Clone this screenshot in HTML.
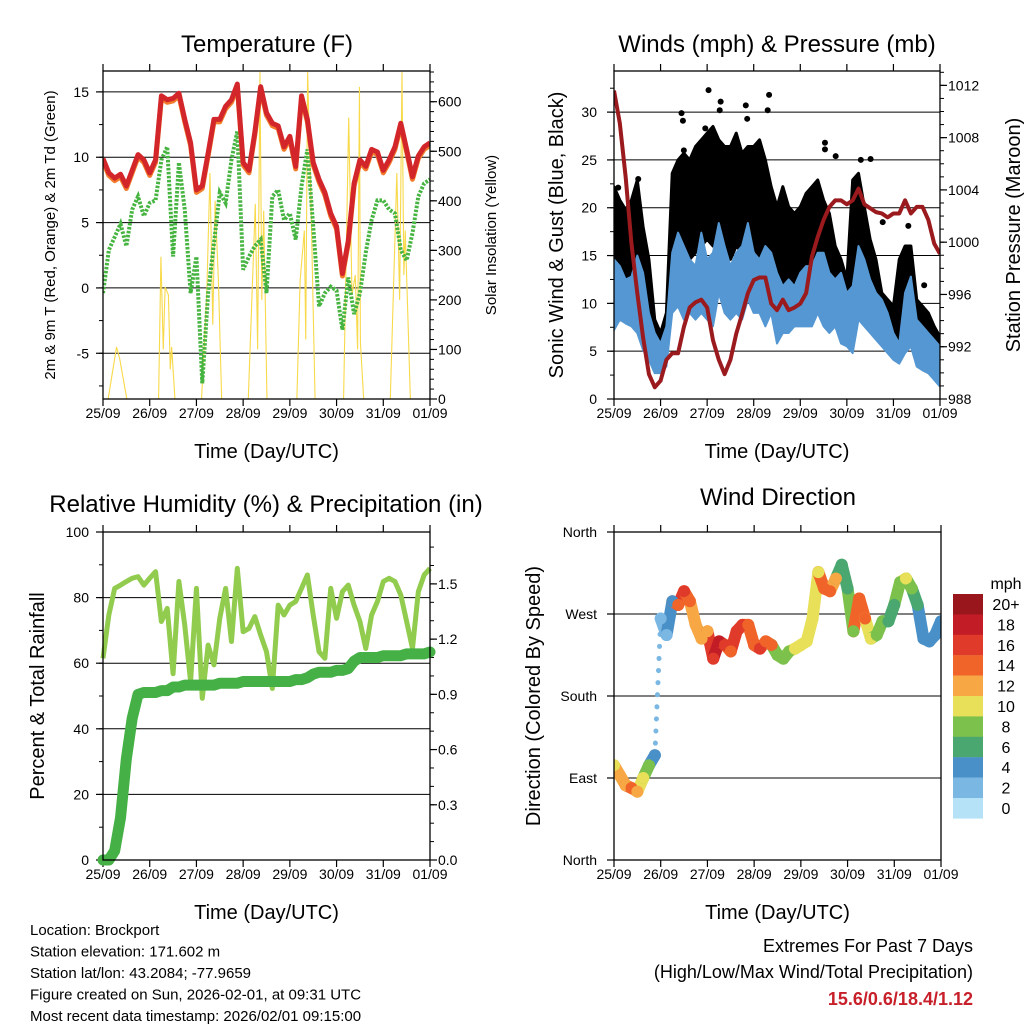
<!DOCTYPE html>
<html><head><meta charset="utf-8"><style>
body{margin:0;background:#fff}
svg{display:block;font-family:"Liberation Sans",Arial,sans-serif}
</style></head><body>
<svg id="c" width="1024" height="1024" viewBox="0 0 1024 1024" xmlns="http://www.w3.org/2000/svg"></svg>
<script>
// ---------- DATA ----------
const dayLabels=["25/09","26/09","27/09","28/09","29/09","30/09","31/09","01/09"];
const tempRed=[9.9,8.8,8.4,8.7,7.8,9.0,10.2,9.8,8.8,9.8,14.7,14.4,14.5,14.9,12.9,11.1,7.5,7.8,10.3,12.9,12.9,13.9,14.4,15.6,9.6,9.0,11.9,15.4,13.4,12.6,12.4,10.8,11.6,9.3,14.7,12.9,9.6,8.3,7.3,5.7,4.7,1.1,3.6,8.0,9.8,9.3,10.6,10.4,9.0,9.8,10.8,12.6,10.6,8.5,10.1,10.8,11.1];
const dewGreen=[-0.4,2.9,3.9,4.9,3.2,6.0,7.0,5.5,6.5,6.7,9.8,10.8,2.4,9.6,6.0,-0.4,2.4,-7.3,-0.4,3.4,7.3,6.5,9.8,12.0,1.4,2.4,3.2,3.7,-0.4,7.0,7.5,5.2,5.7,3.7,7.8,10.6,4.7,-1.4,-0.4,0.1,-0.2,-3.2,0.8,-2.0,-0.4,2.7,5.2,6.7,6.7,6.0,5.7,2.9,2.1,4.2,7.0,8.0,8.3];
const solarDay=[0.11,0.29,0.36,0.51,1.19,1.24,1.29,1.33,1.40,1.44,1.47,1.54,2.11,2.22,2.29,2.35,2.40,2.47,2.54,3.11,3.26,3.31,3.36,3.40,3.44,3.51,4.15,4.22,4.31,4.34,4.38,4.45,4.51,4.54,5.15,5.26,5.33,5.40,5.45,5.49,5.51,5.58,6.15,6.29,6.35,6.40,6.44,6.47,6.58];
const solarVal=[0,105,80,0,0,287,100,226,210,60,105,0,0,210,456,150,400,240,0,0,394,100,660,200,380,0,0,240,340,120,660,406,132,0,0,568,210,250,100,630,115,0,0,456,200,660,250,340,0];
const windHigh=[14.6,13.9,12.5,12.8,15.0,13.2,9.0,6.9,5.8,7.6,15.3,17.4,16.0,14.6,13.9,17.4,14.6,15.3,18.4,16.0,13.9,15.3,16.0,18.4,15.3,14.6,16.0,15.3,13.2,11.8,12.5,11.8,13.2,13.9,13.9,15.3,15.3,13.2,12.5,13.2,11.1,11.8,16.0,14.6,12.5,11.1,10.4,9.0,6.9,5.8,11.1,12.8,8.3,7.6,6.9,6.2,5.5];
const windLow=[7.2,8.3,7.9,7.6,6.9,5.1,4.1,2.7,2.7,3.4,9.0,9.7,8.3,9.0,8.3,9.0,8.3,7.6,11.1,9.0,8.3,9.0,8.3,10.4,9.0,9.0,7.6,9.0,5.8,6.9,6.9,7.6,7.6,7.6,7.6,9.0,7.6,6.9,7.6,5.8,5.5,4.8,8.3,7.6,6.9,6.2,5.5,4.8,4.1,3.7,4.8,5.5,3.4,3.0,2.7,2.0,1.3];
const gustHigh=[22.2,20.8,19.8,20.8,22.9,18.0,14.6,8.3,6.9,9.0,23.6,25.0,25.7,25.0,26.4,27.1,27.8,28.5,27.1,26.4,26.4,27.8,25.7,26.4,26.4,27.1,25.0,22.2,20.1,22.2,20.1,19.4,20.1,21.5,22.2,22.9,20.8,19.4,16.0,14.6,12.5,22.9,23.6,20.1,16.7,14.6,11.1,10.4,9.7,14.6,16.0,16.0,10.4,9.7,9.0,7.6,6.5];
const gustLow=[12.8,11.1,11.8,10.4,11.1,7.6,4.8,5.1,5.5,4.1,14.6,16.0,16.7,14.6,15.3,16.0,16.7,16.0,16.7,14.6,14.6,16.0,15.3,15.3,16.0,14.6,13.9,11.8,11.1,11.1,11.8,11.8,11.1,11.8,12.5,13.2,11.1,10.4,9.0,7.6,6.9,11.8,11.1,11.1,9.0,7.6,6.9,6.2,5.5,6.2,6.9,7.6,4.8,4.8,4.8,4.1,4.1];
const gustOutDay=[2.03,3.33,1.45,1.48,2.29,2.27,2.83,2.86,3.30,1.96,4.53,4.53,4.76,5.30,5.51,1.88,1.50,5.77,6.32,6.66,0.52,0.09];
const gustOutVal=[32.3,31.8,29.9,29.1,31.1,30.2,30.7,29.3,30.2,28.3,26.8,26.1,25.4,25.0,25.1,26.4,26.0,18.5,18.1,11.9,23.0,22.1];
const pressure=[1011.6,1009.1,1005.0,999.9,996.1,992.7,989.9,988.9,989.4,991.0,991.5,991.5,993.5,995.0,995.4,995.6,995.0,992.5,991.0,989.9,991.0,993.0,994.5,996.1,997.1,997.3,997.3,995.3,994.8,995.6,994.8,995.0,995.3,996.1,998.9,1000.4,1001.7,1002.7,1003.2,1003.2,1002.9,1003.2,1004.1,1002.9,1002.6,1002.3,1002.2,1001.9,1002.2,1002.2,1003.2,1002.2,1002.7,1002.7,1001.7,999.9,999.1];
const rhVals=[61.5,74.7,82.8,83.8,84.9,85.9,86.4,83.8,85.9,87.9,72.7,76.7,56.8,84.9,71.6,54.4,82.8,49.3,65.5,59.5,73.7,82.8,66.6,88.9,69.6,70.6,74.2,68.6,63.5,52.3,77.7,74.7,77.7,78.8,82.8,86.9,74.7,63.5,61.5,82.8,73.7,81.8,83.8,77.7,72.7,64.5,74.7,78.8,84.9,85.9,84.9,80.8,72.7,64.5,81.8,86.9,88.9];
const precipTotal=[0,0,0.05,0.23,0.55,0.77,0.90,0.91,0.91,0.91,0.92,0.92,0.94,0.94,0.95,0.95,0.95,0.95,0.95,0.95,0.96,0.96,0.96,0.96,0.97,0.97,0.97,0.97,0.97,0.97,0.97,0.97,0.97,0.98,0.98,0.99,1.01,1.02,1.02,1.02,1.03,1.03,1.04,1.08,1.10,1.10,1.10,1.10,1.11,1.11,1.11,1.11,1.12,1.12,1.12,1.12,1.13];
const dirVals=[104,93,82,79,75,90,104,115,265,247,284,280,295,284,258,243,251,221,240,236,229,251,258,258,236,232,240,236,225,221,229,232,236,240,265,316,298,295,309,324,298,251,287,265,243,247,262,262,280,305,309,298,280,243,240,247,262];
const dirSpeed=[11,12,13,14,13,10,8,5,3,3,4,14,16,15,13,12,13,17,18,16,15,16,17,15,14,16,15,14,9,8,9,10,11,10,11,11,14,15,12,7,6,8,15,14,10,9,8,7,7,9,10,9,6,5,4,5,4];
const cbLabels=["20+","18","16","14","12","10","8","6","4","2","0"];
const cbColors=["#98161c","#c21d26","#e03a2a","#f0642a","#f7a743","#e8e058","#7cc14c","#4aa770","#4a90c8","#7ab8e3","#b5e2f7"];

// ---------- HELPERS ----------
const NS="http://www.w3.org/2000/svg";
const svg=document.getElementById('c');
function mk(tag,attrs,parent,text){const e=document.createElementNS(NS,tag);for(const k in attrs)e.setAttribute(k,attrs[k]);if(text!==undefined)e.textContent=text;(parent||svg).appendChild(e);return e;}
function lin(d0,d1,r0,r1){return v=>r0+(v-d0)*(r1-r0)/(d1-d0);}
function idxDay(i,n){return i*7/(n-1);}
function spdColor(s){let k=Math.min(10,Math.floor(s/2));return cbColors[10-k];}

const P1={x0:103,x1:430,y0:71,y1:399},P2={x0:614,x1:940,y0:71,y1:399},P3={x0:103,x1:430,y0:532,y1:860},P4={x0:614,x1:941,y0:532,y1:860};

function xAxis(P,name){
  const g=mk('g',{},svg);
  
  const sx=lin(0,7,P.x0,P.x1);
  dayLabels.forEach((l,i)=>{const x=sx(i);
    mk('line',{x1:x,x2:x,y1:P.y1,y2:P.y1+7,stroke:'#000','stroke-width':1.2},g);
    mk('line',{x1:x,x2:x,y1:P.y0,y2:P.y0-7,stroke:'#000','stroke-width':1.2},g);
    const t=mk('text',{x:x,y:P.y1+19,'font-size':14,'text-anchor':'middle'},g,l);
    });
  const tt=mk('text',{x:(P.x0+P.x1)/2,y:P.y1+59,'font-size':20,'text-anchor':'middle'},g,'Time (Day/UTC)');
  
  return sx;
}
function frame(P,name){const r=mk('rect',{x:P.x0,y:P.y0,width:P.x1-P.x0,height:P.y1-P.y0,fill:'none',stroke:'#000','stroke-width':1.3});
  }
function yTicks(P,sy,vals,labels,side,minors,grid,lx,fs){
  const g=mk('g',{},svg);
  
  const xe=side==='left'?P.x0:P.x1,dir=side==='left'?-1:1;
  vals.forEach((v,i)=>{const y=sy(v);
    if(grid&&y>P.y0+1&&y<P.y1-1)mk('line',{x1:P.x0,x2:P.x1,y1:y,y2:y,stroke:'#000','stroke-width':1},g);
    mk('line',{x1:xe,x2:xe+dir*7,y1:y,y2:y,stroke:'#000','stroke-width':1.2},g);
    const t=mk('text',{x:lx,y:y+5,'font-size':fs||14,'text-anchor':side==='left'?'end':'start'},g,labels[i]);
    });
  minors.forEach(v=>{const y=sy(v);if(y>=P.y0&&y<=P.y1)mk('line',{x1:xe,x2:xe+dir*4,y1:y,y2:y,stroke:'#000','stroke-width':1},g);});
}
function vtext(x,y,s,fs,name){const t=mk('text',{x:x,y:y,'font-size':fs,'text-anchor':'middle',transform:`rotate(-90 ${x} ${y})`},svg,s);
  }
function title(x,y,s,name){const t=mk('text',{x:x,y:y,'font-size':24,'text-anchor':'middle'},svg,s);
  }
function range(a,b,s){const r=[];for(let v=a;v<=b+1e-9;v+=s)r.push(+v.toFixed(3));return r;}

// ---------- PANEL 1: Temperature ----------
title(267,52,'Temperature (F)','temperature-title');
{const sx=xAxis(P1,'temperature');
 const sy=lin(-8.5,16.6,P1.y1,P1.y0), sr=lin(0,662,P1.y1,P1.y0);
 yTicks(P1,sy,[15,10,5,0,-5],['15','10','5','0','-5'],'left',range(-7.5,16,2.5),true,89);
 yTicks(P1,sr,[0,100,200,300,400,500,600],['0','100','200','300','400','500','600'],'right',range(0,660,20),false,438);
 const cp=mk('clipPath',{id:'cp1'});mk('rect',{x:P1.x0,y:P1.y0,width:P1.x1-P1.x0,height:P1.y1-P1.y0},cp);
 const g=mk('g',{'clip-path':'url(#cp1)'});
 const sol=mk('polyline',{points:solarDay.map((d,i)=>sx(d)+','+sr(solarVal[i])).join(' '),fill:'none',stroke:'#f8d94a','stroke-width':1.1},g);
 
 const td=mk('polyline',{points:dewGreen.map((v,i)=>sx(idxDay(i,dewGreen.length))+','+sy(v)).join(' '),fill:'none',stroke:'#46b440','stroke-width':4,'stroke-dasharray':'2.5 1.5'},g);
 
 const t9=mk('polyline',{points:tempRed.map((v,i)=>sx(idxDay(i,tempRed.length))+','+(sy(v)+2.5)).join(' '),fill:'none',stroke:'#f27c2c','stroke-width':5,'stroke-linejoin':'round'},g);
 
 const t2=mk('polyline',{points:tempRed.map((v,i)=>sx(idxDay(i,tempRed.length))+','+sy(v)).join(' '),fill:'none',stroke:'#d3262a','stroke-width':5,'stroke-linejoin':'round'},g);
 
 frame(P1,'temperature');
 vtext(55,235,'2m & 9m T (Red, Orange) & 2m Td (Green)',15,'temperature-y-axis-title');
 vtext(496,235,'Solar Insolation (Yellow)',15,'solar-y-axis-title');
}

// ---------- PANEL 2: Winds ----------
title(777,52,'Winds (mph) & Pressure (mb)','winds-title');
{const sx=xAxis(P2,'winds');
 const sy=lin(0,34.3,P2.y1,P2.y0), sp=lin(988,1013.1,P2.y1,P2.y0);
 yTicks(P2,sy,[0,5,10,15,20,25,30],['0','5','10','15','20','25','30'],'left',range(0,34,2.5),true,597);
 yTicks(P2,sp,[988,992,996,1000,1004,1008,1012],['988','992','996','1000','1004','1008','1012'],'right',range(988,1013,1),false,948);
 const cp=mk('clipPath',{id:'cp2'});mk('rect',{x:P2.x0,y:P2.y0,width:P2.x1-P2.x0,height:P2.y1-P2.y0},cp);
 const g=mk('g',{'clip-path':'url(#cp2)'});
 const n=gustHigh.length;
 let pts=gustHigh.map((v,i)=>sx(idxDay(i,n))+','+sy(v));
 for(let i=n-1;i>=0;i--)pts.push(sx(idxDay(i,n))+','+sy(gustLow[i]));
 const gb=mk('polygon',{points:pts.join(' '),fill:'#000',stroke:'#000','stroke-width':3,'stroke-linejoin':'round'},g);
 
 gustOutDay.forEach((d,i)=>{const c=mk('circle',{cx:sx(d),cy:sy(gustOutVal[i]),r:3,fill:'#000'},g);
   });
 const m=windHigh.length;
 let wp=windHigh.map((v,i)=>sx(idxDay(i,m))+','+sy(v));
 for(let i=m-1;i>=0;i--)wp.push(sx(idxDay(i,m))+','+sy(windLow[i]));
 const wb=mk('polygon',{points:wp.join(' '),fill:'#5597d2',stroke:'#5597d2','stroke-width':2,'stroke-linejoin':'round'},g);
 
 const pl=mk('polyline',{points:pressure.map((v,i)=>sx(idxDay(i,pressure.length))+','+sp(v)).join(' '),fill:'none',stroke:'#9a1a1e','stroke-width':4,'stroke-linejoin':'round'},g);
 
 frame(P2,'winds');
 vtext(563,235,'Sonic Wind & Gust (Blue, Black)',20,'wind-y-axis-title');
 vtext(1020,235,'Station Pressure (Maroon)',20,'pressure-y-axis-title');
}

// ---------- PANEL 3: RH & Precip ----------
title(266,512,'Relative Humidity (%) & Precipitation (in)','humidity-title');
{const sx=xAxis(P3,'humidity');
 const sy=lin(0,100,P3.y1,P3.y0), sr=lin(0,1.782,P3.y1,P3.y0);
 yTicks(P3,sy,[0,20,40,60,80,100],['0','20','40','60','80','100'],'left',range(0,100,10),true,89);
 yTicks(P3,sr,[0,0.3,0.6,0.9,1.2,1.5],['0.0','0.3','0.6','0.9','1.2','1.5'],'right',range(0,1.75,0.1),false,438);
 const cp=mk('clipPath',{id:'cp3'});mk('rect',{x:P3.x0-8,y:P3.y0,width:P3.x1-P3.x0+16,height:P3.y1-P3.y0+8},cp);
 const g=mk('g',{'clip-path':'url(#cp3)'});
 const rh=mk('polyline',{points:rhVals.map((v,i)=>sx(idxDay(i,rhVals.length))+','+sy(v)).join(' '),fill:'none',stroke:'#92cc4e','stroke-width':5,'stroke-linejoin':'round'},g);
 
 const pr=mk('polyline',{points:precipTotal.map((v,i)=>sx(idxDay(i,precipTotal.length))+','+sr(v)).join(' '),fill:'none',stroke:'#45b045','stroke-width':11,'stroke-linejoin':'round','stroke-linecap':'round'},g);
 
 frame(P3,'humidity');
 vtext(44,696,'Percent & Total Rainfall',20,'humidity-y-axis-title');
}

// ---------- PANEL 4: Wind direction ----------
title(778,505,'Wind Direction','wind-direction-title');
{const sx=xAxis(P4,'wind-direction');
 const sy=lin(0,360,P4.y1,P4.y0);
 yTicks(P4,sy,[0,90,180,270,360],['North','East','South','West','North'],'left',[],true,597);
 const cp=mk('clipPath',{id:'cp4'});mk('rect',{x:P4.x0,y:P4.y0,width:P4.x1-P4.x0,height:P4.y1-P4.y0},cp);
 const g=mk('g',{'clip-path':'url(#cp4)'});
 const n=dirVals.length;
 for(let i=0;i<n-1;i++){
   const jump=Math.abs(dirVals[i+1]-dirVals[i])>100;
   const l=mk('line',{x1:sx(idxDay(i,n)),y1:sy(dirVals[i]),x2:sx(idxDay(i+1,n)),y2:sy(dirVals[i+1]),stroke:spdColor(dirSpeed[i+1]),'stroke-width':jump?5:12,'stroke-linecap':'round','stroke-dasharray':jump?'0.1 12':'none'},g);
   }
 dirVals.forEach((v,i)=>{const c=mk('circle',{cx:sx(idxDay(i,n)),cy:sy(v),r:6,fill:spdColor(dirSpeed[i])},g);
   });
 frame(P4,'wind-direction');
 vtext(540,696,'Direction (Colored By Speed)',20,'wind-direction-y-axis-title');
 const cb=mk('g',{},svg);
 const mph=mk('text',{x:1006,y:589,'font-size':16,'text-anchor':'middle'},cb,'mph');
 
 cbColors.forEach((c,i)=>{const r=mk('rect',{x:953,y:594+i*20.4,width:30,height:20.6,fill:c},cb);
   
   const t=mk('text',{x:1006,y:594+i*20.4+16,'font-size':16,'text-anchor':'middle'},cb,cbLabels[i]);
   });
}

// ---------- FOOTER ----------
const info=["Location: Brockport","Station elevation: 171.602 m","Station lat/lon: 43.2084; -77.9659","Figure created on Sun, 2026-02-01, at 09:31 UTC","Most recent data timestamp: 2026/02/01 09:15:00"];
info.forEach((s,i)=>{const t=mk('text',{x:30,y:935+i*21.5,'font-size':15},svg,s);
  });
const e1=mk('text',{x:973,y:952,'font-size':18,'text-anchor':'end'},svg,'Extremes For Past 7 Days');

const e2=mk('text',{x:973,y:978,'font-size':18,'text-anchor':'end'},svg,'(High/Low/Max Wind/Total Precipitation)');

const e3=mk('text',{x:973,y:1005,'font-size':18,'font-weight':'bold','text-anchor':'end',fill:'#c8202a'},svg,'15.6/0.6/18.4/1.12');

</script>
</body></html>
